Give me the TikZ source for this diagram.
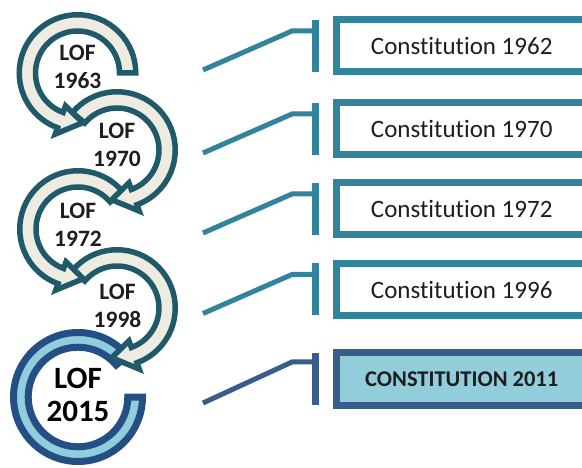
\documentclass[tikz,border=0pt]{standalone}
\usepackage{fontspec}
\setmainfont{Carlito}[Ligatures=NoCommon]
\usetikzlibrary{calc}
\definecolor{tealdark}{HTML}{205A6A}
\definecolor{beige}{HTML}{EEECE1}
\definecolor{navy}{HTML}{244E86}
\definecolor{lightblue}{HTML}{92CDDC}
\definecolor{boxteal}{HTML}{31849B}
\definecolor{boxblue}{HTML}{385D8A}
\definecolor{txt}{HTML}{1E1E1E}
\begin{document}
\begin{tikzpicture}[x=1pt,y=1pt,
  tealarrow/.style={fill=beige, draw=tealdark, line width=5.5pt, line join=miter},
  lastring/.style={fill=lightblue, draw=navy, line width=7pt, line join=miter},
  loftext/.style={font=\bfseries\fontsize{23.5}{28}\selectfont, text=txt, align=center, inner sep=0pt},
  lastlof/.style={font=\bfseries\fontsize{31}{33}\selectfont, text=black, align=center, inner sep=0pt},
  consbox/.style={draw=boxteal, line width=7pt, fill=white, minimum width=250.5pt, minimum height=52pt, inner sep=0pt, outer sep=0pt, font=\fontsize{25}{28}\selectfont, text=txt},
  lastbox/.style={consbox, draw=boxblue, fill=lightblue, font=\bfseries\fontsize{22.5}{26}\selectfont},
  conn/.style={draw=boxteal, line width=5pt, line join=miter},
  lastconn/.style={conn, draw=boxblue},
  barline/.style={draw=boxteal, line width=7pt},
  lastbar/.style={barline, draw=boxblue},
]
\useasboundingbox (0,0) rectangle (582,-468);
\fill[white] (0,0) rectangle (582,-468);

% circle centres
\coordinate (c1) at (77.5,-73);
\coordinate (c2) at (117,-150);
\coordinate (c3) at (78,-229);
\coordinate (c4) at (117,-308);
\coordinate (c5) at (78,-397);

% last ring
\path[lastring] ($(c5)+(40:64.5)$) arc[start angle=40,end angle=360,radius=64.5]
  -- ($(c5)+(0:49.8)$) arc[start angle=360,end angle=40,radius=49.8] -- cycle;
% circle 4
\path[tealarrow] ($(c4)+(140:58.25)$) arc[start angle=140,end angle=-70,radius=58.25]
  -- ($(c4)+(-70:65)$) -- ($(c4)+(-96:50)$) -- ($(c4)+(-70:35)$)
  -- ($(c4)+(-70:42)$) arc[start angle=-70,end angle=140,radius=42] -- cycle;
% circle 3
\path[tealarrow] ($(c3)+(40:58.25)$) arc[start angle=40,end angle=250,radius=58.25]
  -- ($(c3)+(250:65)$) -- ($(c3)+(276:50)$) -- ($(c3)+(250:35)$)
  -- ($(c3)+(250:42)$) arc[start angle=250,end angle=40,radius=42] -- cycle;
% circle 2
\path[tealarrow] ($(c2)+(140:58.25)$) arc[start angle=140,end angle=-70,radius=58.25]
  -- ($(c2)+(-70:65)$) -- ($(c2)+(-96:50)$) -- ($(c2)+(-70:35)$)
  -- ($(c2)+(-70:42)$) arc[start angle=-70,end angle=140,radius=42] -- cycle;
% circle 1
\path[tealarrow] ($(c1)+(0:58.25)$) arc[start angle=0,end angle=250,radius=58.25]
  -- ($(c1)+(250:65)$) -- ($(c1)+(276:50)$) -- ($(c1)+(250:35)$)
  -- ($(c1)+(250:42)$) arc[start angle=250,end angle=0,radius=42] -- cycle;

% labels in circles
\node[loftext] (l1) at ($(c1)+(0,6)$) {LOF\\1963};
\node[loftext] (l2) at ($(c2)+(0,5)$) {LOF\\1970};
\node[loftext] (l3) at ($(c3)+(0,4)$) {LOF\\1972};
\node[loftext] (l4) at ($(c4)+(0.5,2)$) {LOF\\1998};
\node[lastlof] (l5) at ($(c5)+(0,2)$) {LOF\\2015};

% boxes
\node[consbox] (b1) at (461.75,-46) {Constitution 1962};
\node[consbox] (b2) at (461.75,-129) {Constitution 1970};
\node[consbox] (b3) at (461.75,-209) {Constitution 1972};
\node[consbox] (b4) at (461.75,-289.5) {Constitution 1996};
\node[lastbox] (b5) at (461.75,-379) {CONSTITUTION 2011};

% connectors
\foreach \i in {1,2,3,4} {
  \coordinate (t\i) at ($(b\i.north west)+(-21.5,0)$);
  \coordinate (u\i) at ($(b\i.south west)+(-21.5,0)$);
  \coordinate (k\i) at ($(t\i)+(-23,-11)$);
  \coordinate (s\i) at ($(u\i)+(-112,2)$);
  \draw[barline] (t\i) -- (u\i);
  \draw[conn] (s\i) -- (k\i) -- (k\i -| t\i);
}
\coordinate (t5) at ($(b5.north west)+(-21.5,0)$);
\coordinate (u5) at ($(b5.south west)+(-21.5,0)$);
\coordinate (k5) at ($(t5)+(-23,-9)$);
\coordinate (s5) at ($(u5)+(-112,2)$);
\draw[lastbar] (t5) -- (u5);
\draw[lastconn] (s5) -- (k5) -- (k5 -| t5);
\end{tikzpicture}
\end{document}
